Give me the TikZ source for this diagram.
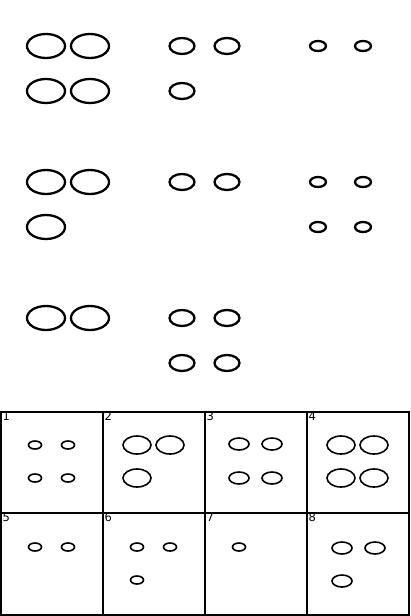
\documentclass[tikz,border=0pt]{standalone}
\usepackage{fontspec}
\setmainfont{DejaVu Sans}
\begin{document}
\begin{tikzpicture}[x=1pt,y=-1pt,
    bigring/.style={line width=2.3pt},
    cellring/.style={line width=1.6pt},
    cellline/.style={line width=2pt},
    cellnum/.style={anchor=north west,inner sep=1pt,font=\fontsize{11.5}{13}\selectfont}]
\useasboundingbox (0,0) rectangle (410,616);

	% large rings
	\foreach \x/\y in {46/46,90/46,46/91,90/91,46/182,90/182,46/227,46/318,90/318}
	    \draw[bigring] (\x,\y) ellipse [x radius=19,y radius=12];

	% medium rings
	\foreach \x/\y in {182/46,227/46,182/91,182/182,227/182,182/318,227/318,182/363,227/363}
	    \draw[bigring] (\x,\y) ellipse [x radius=12.5,y radius=8];

	% small rings
	\foreach \x/\y in {318/46,363/46,318/182,363/182,318/227,363/227}
	    \draw[bigring] (\x,\y) ellipse [x radius=8,y radius=5];

	%\draw[step=1,gray,very thin] (0,0) grid (410,616);

	% answer cells
	\draw[cellline] (1,411.5) rectangle (408.5,614.5);
	\draw[cellline] (1,512.5) -- (408.5,512.5);
	\foreach \x in {103,205,307}
	    \draw[cellline] (\x,411.5) -- (\x,614.5);

	\foreach \n/\x/\y in {1/1.5,2/103.5,3/205.5,4/307.5,5/1.5,6/103.5,7/205.5,8/307.5}
	    \node[cellnum] (num\n) at (\x,\ifnum\n<5 410.5\else 512\fi) {\n};

	% cell 1, 5, 6, 7
	\foreach \x/\y in {35/445,68/445,35/478,68/478,35/547,68/547,137/547,170/547,137/580,239/547}
	    \draw[cellring] (\x,\y) ellipse [x radius=6.5,y radius=4];

	% cell 3, 8
	\foreach \x/\y in {239/444,272/444,239/478,272/478,342/548,375/548,342/581}
	    \draw[cellring] (\x,\y) ellipse [x radius=10,y radius=6];

	% cell 2, 4
	\foreach \x/\y in {137/445,170/445,137/478,341/445,374/445,341/478,374/478}
	    \draw[cellring] (\x,\y) ellipse [x radius=14,y radius=9];

\end{tikzpicture}
\end{document}
